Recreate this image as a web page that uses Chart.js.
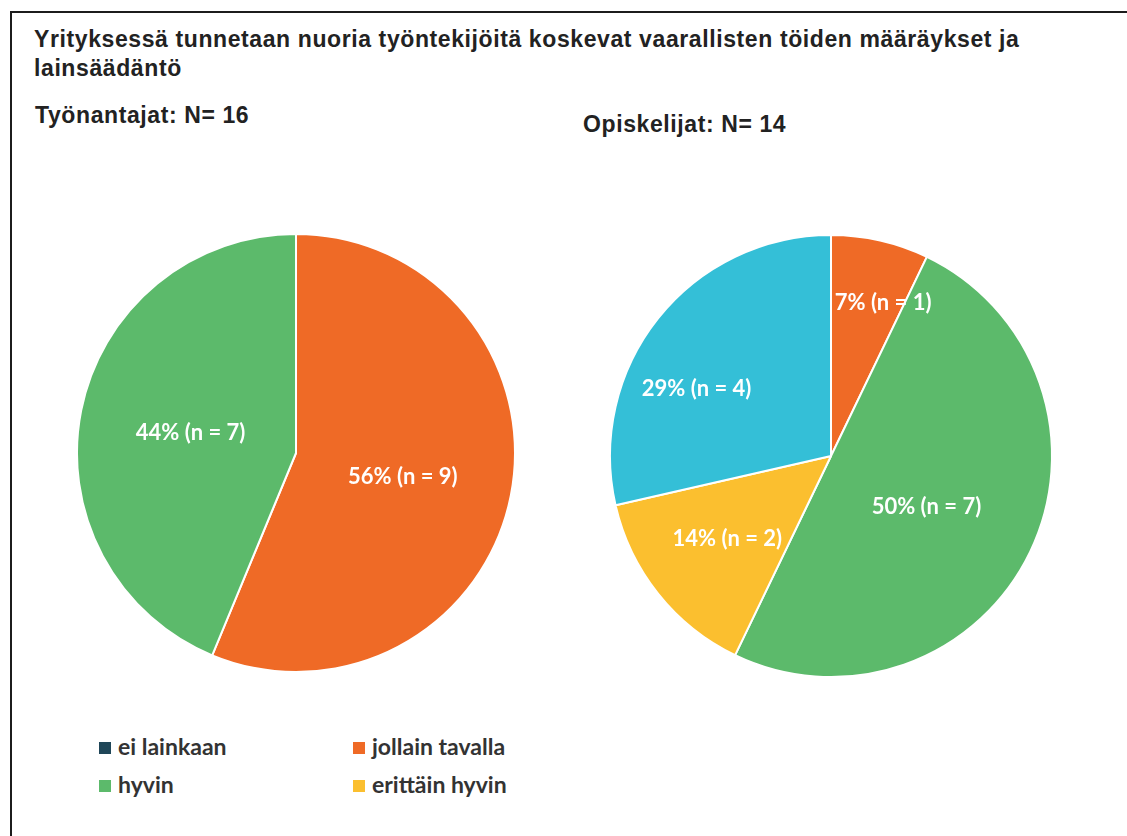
<!DOCTYPE html>
<html>
<head>
<meta charset="utf-8">
<script src="https://cdn.jsdelivr.net/npm/chart.js@4.4.1/dist/chart.umd.min.js"></script>
<style>
  html, body { margin: 0; padding: 0; background: #fff; overflow: hidden; }
  body { width: 1127px; height: 836px; position: relative; }
  #frame { position: absolute; left: 10px; top: 11px; width: 1200px; height: 900px;
           border-top: 2px solid #1c1c1c; border-left: 2px solid #1c1c1c; }
  .txt { position: absolute; font-family: "Liberation Sans", Arial, sans-serif; font-weight: bold; color: #222; white-space: nowrap; letter-spacing: 0.6px; }
  #title { left: 34px; top: 25px; font-size: 23px; line-height: 29px; }
  #sub1 { left: 35px; top: 102px; font-size: 23px; }
  #sub2 { left: 583px; top: 111px; font-size: 23px; }
  .box { position: absolute; }
  #legend { position: absolute; left: 99px; top: 732px; font-family: Lato, "Open Sans", sans-serif; font-weight: bold; font-size: 23px; color: #333; }
  .item { position: absolute; white-space: nowrap; height: 28px; line-height: 28px; }
  .sw { display: inline-block; width: 12px; height: 12px; margin-right: 7px; vertical-align: 1px; }
</style>
</head>
<body>
<div id="frame"></div>
<div id="title" class="txt"></div>
<div id="sub1" class="txt"></div>
<div id="sub2" class="txt"></div>
<div class="box" style="left:76px;top:233px;width:440px;height:440px;"><canvas id="c1" width="440" height="440"></canvas></div>
<div class="box" style="left:606px;top:231px;width:450px;height:450px;"><canvas id="c2" width="450" height="450"></canvas></div>
<div id="legend"></div>
<script>
// ---- data ----
const titleLines = ["Yrityksessä tunnetaan nuoria työntekijöitä koskevat vaarallisten töiden määräykset ja", "lainsäädäntö"];
const categories = ["ei lainkaan", "jollain tavalla", "hyvin", "erittäin hyvin", ""];
const legendCategories = ["ei lainkaan", "jollain tavalla", "hyvin", "erittäin hyvin"];
const colors = ["#1F4658", "#EF6A26", "#5CBA6B", "#FBBF2F", "#34BFD7"];
const employersTitle = "Työnantajat: N= 16";
const employersCounts = [0, 9, 7, 0, 0];
const studentsTitle = "Opiskelijat: N= 14";
const studentsCounts = [0, 1, 7, 2, 4];

document.getElementById('title').innerHTML = titleLines.join('<br>');
document.getElementById('sub1').textContent = employersTitle;
document.getElementById('sub2').textContent = studentsTitle;

// legend (2 columns)
const leg = document.getElementById('legend');
legendCategories.forEach((c, i) => {
  const d = document.createElement('div');
  d.className = 'item';
  d.style.left = (i % 2 === 0 ? 0 : 254) + 'px';
  d.style.top = (Math.floor(i / 2) * 38) + 'px';
  d.innerHTML = '<span class="sw" style="background:' + colors[categories.indexOf(c)] + '"></span>' + c;
  leg.appendChild(d);
});

const pieLabels = {
  id: 'pieLabels',
  afterDatasetsDraw(chart, args, opts) {
    const ctx = chart.ctx;
    const ds = chart.data.datasets[0];
    const total = ds.data.reduce((a, b) => a + b, 0);
    const meta = chart.getDatasetMeta(0);
    ctx.save();
    ctx.font = 'bold 22px Lato, "Open Sans", sans-serif';
    ctx.fillStyle = '#ffffff';
    ctx.textAlign = 'center';
    ctx.textBaseline = 'middle';
    meta.data.forEach((arc, i) => {
      const v = ds.data[i];
      if (!v) return;
      const place = (opts.place && opts.place[i]) || [0.5, 0];
      const mid = (arc.startAngle + arc.endAngle) / 2 + place[1] * Math.PI / 180;
      const r = arc.outerRadius * place[0];
      const x = arc.x + Math.cos(mid) * r;
      const y = arc.y + Math.sin(mid) * r;
      ctx.fillText(Math.round(v / total * 100) + '% (n = ' + v + ')', x, y);
    });
    ctx.restore();
  }
};

function makePie(id, counts, radius, place) {
  return new Chart(document.getElementById(id), {
    type: 'pie',
    data: {
      labels: categories,
      datasets: [{ data: counts, backgroundColor: colors, borderColor: '#ffffff', borderWidth: 2 }]
    },
    options: {
      responsive: false,
      animation: false,
      radius: radius,
      layout: { padding: 0 },
      plugins: { legend: { display: false }, tooltip: { enabled: false }, title: { display: false }, pieLabels: { place: place } }
    },
    plugins: [pieLabels]
  });
}

makePie('c1', employersCounts, 219, [null, [0.5, 1.5], [0.49, -0.5], null, null]);
makePie('c2', studentsCounts, 221, [null, [0.73, 6], [0.49, 2.5], [0.6, 0], [0.68, -12]]);
</script>
</body>
</html>
